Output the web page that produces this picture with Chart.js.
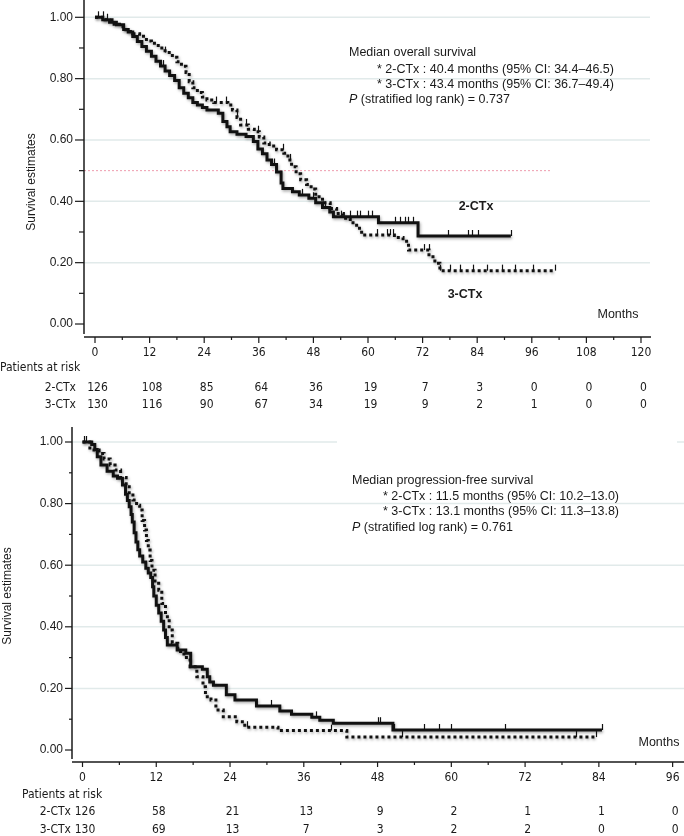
<!DOCTYPE html>
<html>
<head>
<meta charset="utf-8">
<script src="https://cdn.jsdelivr.net/npm/chart.js@4.4.1/dist/chart.umd.min.js"></script>
<style>
  html, body { margin: 0; padding: 0; background: #fff; }
  #wrap { position: relative; width: 684px; height: 836px; }
  canvas { position: absolute; left: 0; }
</style>
</head>
<body>
<div id="wrap">
  <canvas id="osChart" width="684" height="420" style="top:0"></canvas>
  <canvas id="pfsChart" width="684" height="416" style="top:420px"></canvas>
</div>
<script>
// ---- overall survival (top) ----
const osTime2 = [0, 1.7, 3.2, 4.7, 6.3, 7.3, 8.3, 9.3, 10.3, 11.3, 12.4, 13.4, 14.4, 15.4, 16.4, 17.5, 18.5, 19.5, 20.5, 21.5, 22.5, 23.6, 24.6, 27.1, 28.1, 29.0, 29.7, 31.2, 33.2, 34.8, 35.8, 36.8, 37.8, 38.8, 39.9, 40.9, 41.3, 43.4, 44.9, 47.0, 48.5, 50.0, 51.6, 52.4, 62.3, 71.0];
const osSurv2 = [1, 0.992, 0.984, 0.976, 0.960, 0.952, 0.937, 0.921, 0.905, 0.889, 0.873, 0.857, 0.841, 0.825, 0.810, 0.794, 0.770, 0.752, 0.738, 0.722, 0.714, 0.706, 0.698, 0.687, 0.660, 0.643, 0.627, 0.619, 0.611, 0.595, 0.571, 0.555, 0.535, 0.520, 0.496, 0.460, 0.442, 0.431, 0.421, 0.410, 0.395, 0.380, 0.365, 0.350, 0.330, 0.287];
const osCens2 = [0.7, 2.7, 14.9, 39.3, 45.5, 48, 50.5, 54.1, 56.1, 57.5, 58.2, 60.1, 60.8, 62.3, 65.9, 67.0, 68.1, 68.9, 70.0, 77.6, 82.0, 82.8, 84.2, 91.4];

const osTime3 = [0, 2.2, 4.2, 5.8, 6.8, 8.3, 9.8, 11.3, 12.4, 13.9, 15.4, 17.0, 18.0, 19.0, 20.0, 20.7, 21.5, 22.5, 23.6, 24.6, 26.1, 29.2, 30.2, 31.2, 32.0, 33.7, 35.0, 36.1, 37.1, 38.3, 39.9, 41.5, 42.4, 43.2, 44.2, 45.2, 46.5, 47.5, 48.5, 50.0, 51.7, 53.1, 54.6, 56.1, 57.5, 58.6, 65.8, 67.7, 68.9, 73.4, 74.7, 75.8];
const osSurv3 = [1, 0.992, 0.977, 0.969, 0.954, 0.946, 0.938, 0.923, 0.915, 0.900, 0.885, 0.870, 0.855, 0.840, 0.820, 0.790, 0.770, 0.755, 0.740, 0.730, 0.722, 0.714, 0.698, 0.673, 0.649, 0.635, 0.627, 0.610, 0.590, 0.580, 0.568, 0.557, 0.535, 0.513, 0.490, 0.470, 0.455, 0.440, 0.415, 0.395, 0.377, 0.360, 0.345, 0.330, 0.312, 0.290, 0.282, 0.270, 0.241, 0.219, 0.198, 0.174];
const osCens3 = [1.7, 15.4, 26.6, 28.7, 31.2, 33.2, 35.8, 41.4, 42.9, 61.9, 64.1, 64.8, 65.6, 72.2, 73.3, 75.8, 78.0, 80.2, 83.1, 86.1, 89.4, 92.3, 96.3, 101.1];

const osTicks = [0, 12, 24, 36, 48, 60, 72, 84, 96, 108, 120];
const osRisk2 = [126, 108, 85, 64, 36, 19, 7, 3, 0, 0, 0];
const osRisk3 = [130, 116, 90, 67, 34, 19, 9, 2, 1, 0, 0];

// ---- progression-free survival (bottom) ----
const pfsTime2 = [0, 1.5, 2, 2.4, 3, 4, 5, 5.7, 6.5, 7.0, 7.3, 7.6, 7.9, 8.1, 8.4, 8.7, 9.0, 9.3, 9.8, 10.3, 10.7, 11.1, 11.4, 11.6, 12.0, 12.4, 12.8, 13.2, 13.5, 13.8, 15.4, 16.8, 17.6, 19.5, 20.3, 20.7, 21.3, 23.4, 24.8, 28.3, 32.1, 34, 37.3, 38.6, 40.8, 50.5];
const pfsSurv2 = [1, 0.992, 0.976, 0.952, 0.925, 0.905, 0.890, 0.882, 0.860, 0.830, 0.810, 0.790, 0.765, 0.740, 0.705, 0.675, 0.650, 0.630, 0.610, 0.590, 0.575, 0.560, 0.530, 0.500, 0.470, 0.445, 0.418, 0.390, 0.365, 0.341, 0.325, 0.314, 0.270, 0.262, 0.238, 0.221, 0.210, 0.179, 0.162, 0.143, 0.127, 0.116, 0.106, 0.097, 0.087, 0.065];
const pfsCens2 = [0.5, 30.6, 38, 48.1, 48.4, 50.6, 55.5, 58, 60, 68.7, 84.5];

const pfsTime3 = [0, 1.2, 2.7, 3.5, 4.5, 5.3, 6.2, 7.1, 7.6, 8.2, 8.8, 9.3, 9.7, 10.1, 10.4, 10.7, 11.0, 11.3, 11.8, 12.4, 12.9, 13.5, 14.1, 14.6, 15.5, 16.5, 17.5, 18.6, 19.6, 20.0, 20.9, 21.7, 22.9, 25.1, 26.4, 31.8, 43];
const pfsSurv3 = [1, 0.974, 0.963, 0.945, 0.925, 0.909, 0.885, 0.855, 0.835, 0.812, 0.795, 0.779, 0.745, 0.714, 0.680, 0.649, 0.615, 0.584, 0.541, 0.519, 0.476, 0.433, 0.390, 0.347, 0.320, 0.300, 0.270, 0.238, 0.205, 0.173, 0.162, 0.130, 0.108, 0.092, 0.074, 0.063, 0.042];
const pfsCens3 = [0.3, 26.7, 40.4, 52, 80.3, 83.6];

const pfsTicks = [0, 12, 24, 36, 48, 60, 72, 84, 96];
const pfsRisk2 = [126, 58, 21, 13, 9, 2, 1, 1, 0];
const pfsRisk3 = [130, 69, 13, 7, 3, 2, 2, 0, 0];

const yTicks = [0, 0.2, 0.4, 0.6, 0.8, 1.0];
const yMinorTicks = [0.1, 0.3, 0.5, 0.7, 0.9];
const armNames = ['2-CTx', '3-CTx'];

const NARROW = "'Liberation Sans Narrow', 'Arial Narrow', 'DejaVu Sans Condensed', sans-serif";
const SANS = "'Liberation Sans', Arial, Helvetica, sans-serif";
const INK = '#1a1a1a';

function survAt(times, surv, t) {
  let s = surv[0];
  for (let i = 0; i < times.length; i++) {
    if (times[i] <= t) s = surv[i];
  }
  return s;
}

function curvePoints(times, surv, cens) {
  const pts = times.map((t, i) => ({ x: t, y: surv[i] }));
  pts.push({ x: Math.max(...cens), y: surv[surv.length - 1] });
  return pts;
}

function put(ctx, str, x, y, font, align) {
  ctx.font = font;
  ctx.textAlign = align || 'left';
  ctx.textBaseline = 'middle';
  ctx.fillText(str, x, y);
}

function makeDecor(cfg) {
  return {
    id: 'kmDecor',
    beforeDatasetsDraw(chart) {
      const { ctx, scales: { y } } = chart;
      ctx.save();
      ctx.strokeStyle = '#e1eaea';
      ctx.lineWidth = 1.5;
      cfg.grid.forEach(g => {
        const py = y.getPixelForValue(g[0]);
        ctx.beginPath(); ctx.moveTo(g[1], py); ctx.lineTo(g[2], py); ctx.stroke();
      });
      if (cfg.median) {
        const py = y.getPixelForValue(cfg.median[0]);
        ctx.strokeStyle = '#ee9cad';
        ctx.lineWidth = 1;
        ctx.setLineDash([2, 2]);
        ctx.beginPath(); ctx.moveTo(cfg.median[1], py); ctx.lineTo(cfg.median[2], py); ctx.stroke();
      }
      ctx.restore();
    },
    beforeDatasetDraw(chart) {
      const c = chart.ctx;
      c.save();
      c.shadowColor = 'rgba(0,0,0,0.35)';
      c.shadowBlur = 3;
      c.shadowOffsetX = 1;
      c.shadowOffsetY = 1.5;
    },
    afterDatasetDraw(chart) {
      chart.ctx.restore();
    },
    afterDatasetsDraw(chart) {
      const { ctx, scales: { x, y } } = chart;
      ctx.save();
      ctx.strokeStyle = '#111';
      ctx.lineWidth = 1.2;
      chart.data.datasets.forEach(ds => {
        ds.censor.forEach(t => {
          const px = Math.round(x.getPixelForValue(t)) + 0.5;
          const py = y.getPixelForValue(survAt(ds.times, ds.surv, t));
          ctx.beginPath(); ctx.moveTo(px, py); ctx.lineTo(px, py - 6); ctx.stroke();
        });
      });
      ctx.restore();
    },
    afterDraw(chart) {
      const { ctx, chartArea: a, scales: { x, y } } = chart;
      ctx.save();
      ctx.strokeStyle = INK;
      ctx.fillStyle = INK;
      ctx.lineWidth = 1.5;
      // axes
      ctx.beginPath(); ctx.moveTo(a.left, a.top); ctx.lineTo(a.left, a.bottom - 2); ctx.stroke();
      const ax = a.bottom + 1;
      ctx.beginPath(); ctx.moveTo(a.left, ax); ctx.lineTo(a.right, ax); ctx.stroke();
      ctx.lineWidth = 1.2;
      yTicks.forEach(v => {
        const py = y.getPixelForValue(v);
        ctx.beginPath(); ctx.moveTo(a.left - cfg.yMajorLen, py); ctx.lineTo(a.left, py); ctx.stroke();
      });
      yMinorTicks.forEach(v => {
        const py = y.getPixelForValue(v);
        ctx.beginPath(); ctx.moveTo(a.left - cfg.yMinorLen, py); ctx.lineTo(a.left, py); ctx.stroke();
      });
      cfg.xTicks.forEach(t => {
        let px = x.getPixelForValue(t);
        ctx.beginPath(); ctx.moveTo(px, ax); ctx.lineTo(px, ax + cfg.xMajorLen); ctx.stroke();
        px = x.getPixelForValue(t + 6);
        if (px < a.right) {
          ctx.beginPath(); ctx.moveTo(px, ax); ctx.lineTo(px, ax + cfg.xMinorLen); ctx.stroke();
        }
      });

      // y title
      ctx.save();
      ctx.translate(cfg.title[0], cfg.title[1]);
      ctx.rotate(-Math.PI / 2);
      put(ctx, 'Survival estimates', 0, 0, '12px ' + SANS, 'center');
      ctx.restore();

      put(ctx, 'Months', cfg.months[0], cfg.months[1], '12.5px ' + SANS, 'center');

      // annotation
      const n = cfg.note;
      const nf = '12.5px ' + SANS;
      put(ctx, n.lines[0], n.x, n.ys[0], nf);
      put(ctx, n.lines[1], n.indent, n.ys[1], nf);
      put(ctx, n.lines[2], n.indent, n.ys[2], nf);
      put(ctx, 'P', n.x, n.ys[3], 'italic ' + nf);
      const pw = ctx.measureText('P').width;
      put(ctx, n.lines[3], n.x + pw, n.ys[3], nf);

      (cfg.labels || []).forEach(l => put(ctx, l[0], l[1], l[2], 'bold 12.5px ' + SANS, 'center'));

      // patients at risk table
      const r = cfg.risk;
      put(ctx, 'Patients at risk', r.x, r.y, '12px ' + NARROW);
      [r.arm2, r.arm3].forEach((row, i) => {
        put(ctx, armNames[i], r.labelX, r.rowsY[i], '12px ' + NARROW, 'right');
        row.forEach((v, j) => {
          put(ctx, String(v), x.getPixelForValue(cfg.xTicks[j]) + 2.5, r.rowsY[i], '12px ' + NARROW, 'center');
        });
      });
      ctx.restore();
    }
  };
}

function kmChart(id, cfg) {
  const mk = (times, surv, cens, dash) => ({
    data: curvePoints(times, surv, cens),
    times: times, surv: surv, censor: cens,
    borderColor: '#111',
    borderWidth: 3,
    borderDash: dash,
    borderCapStyle: 'butt',
    borderJoinStyle: 'miter',
    stepped: 'before',
    pointRadius: 0,
    fill: false
  });
  return new Chart(document.getElementById(id), {
    type: 'line',
    data: { datasets: [mk(cfg.t2, cfg.s2, cfg.c2, []), mk(cfg.t3, cfg.s3, cfg.c3, [3, 3])] },
    options: {
      responsive: false,
      animation: false,
      events: [],
      layout: { padding: { top: cfg.padTop, right: cfg.padRight, left: 0, bottom: 0 } },
      plugins: { legend: { display: false }, tooltip: { enabled: false } },
      scales: {
        x: {
          type: 'linear',
          min: cfg.xMin, max: cfg.xMax,
          afterBuildTicks: s => { s.ticks = cfg.xTicks.map(v => ({ value: v })); },
          afterFit: s => { s.height = cfg.xAxisH; s.paddingLeft = 0; s.paddingRight = 0; },
          grid: { display: false, drawTicks: false },
          border: { display: false },
          ticks: {
            autoSkip: false, maxRotation: 0, padding: cfg.xPad,
            color: INK, font: { family: NARROW, size: 12 },
            callback: v => String(v)
          }
        },
        y: {
          type: 'linear',
          min: cfg.yMin, max: cfg.yMax,
          afterBuildTicks: s => { s.ticks = yTicks.map(v => ({ value: v })); },
          afterFit: s => { s.width = cfg.yAxisW; s.paddingTop = 0; s.paddingBottom = 0; },
          grid: { display: false, drawTicks: false },
          border: { display: false },
          ticks: {
            autoSkip: false, padding: cfg.yPad,
            color: INK, font: { family: SANS, size: 12 },
            callback: v => Number(v).toFixed(2)
          }
        }
      }
    },
    plugins: [makeDecor(cfg)]
  });
}

kmChart('osChart', {
  t2: osTime2, s2: osSurv2, c2: osCens2,
  t3: osTime3, s3: osSurv3, c3: osCens3,
  xTicks: osTicks,
  padTop: 0, padRight: 33, yAxisW: 84, xAxisH: 84,
  xMin: -2.418, xMax: 122.2, yMin: -0.0391, yMax: 1.0564,
  xPad: 10, yPad: 11,
  yMajorLen: 9, yMinorLen: 5, xMajorLen: 6, xMinorLen: 3,
  grid: [[0.2, 84, 650], [0.4, 84, 650], [0.6, 84, 650], [0.8, 84, 650], [1.0, 84, 650]],
  median: [0.5, 84, 550],
  title: [32, 182],
  months: [618, 315],
  note: {
    x: 349, indent: 377, ys: [53, 70, 85, 100],
    lines: ['Median overall survival',
            '* 2-CTx : 40.4 months (95% CI: 34.4\u201346.5)',
            '* 3-CTx : 43.4 months (95% CI: 36.7\u201349.4)',
            ' (stratified log rank) = 0.737']
  },
  labels: [['2-CTx', 476, 207], ['3-CTx', 465, 295]],
  risk: { x: 0, y: 368, labelX: 76, rowsY: [388, 405], arm2: osRisk2, arm3: osRisk3 }
});

kmChart('pfsChart', {
  t2: pfsTime2, s2: pfsSurv2, c2: pfsCens2,
  t3: pfsTime3, s3: pfsSurv3, c3: pfsCens3,
  xTicks: pfsTicks,
  padTop: 7, padRight: 0, yAxisW: 72, xAxisH: 75,
  xMin: -1.708, xMax: 97.85, yMin: -0.0357, yMax: 1.0487,
  xPad: 9.5, yPad: 9,
  yMajorLen: 7, yMinorLen: 3, xMajorLen: 5, xMinorLen: 3,
  grid: [[0.2, 72, 684], [0.4, 72, 684], [0.6, 72, 684], [0.8, 72, 684], [1.0, 72, 337], [1.0, 677, 684]],
  median: null,
  title: [8, 176],
  months: [659, 323],
  note: {
    x: 352, indent: 383, ys: [61, 77, 92, 108],
    lines: ['Median progression-free survival',
            '* 2-CTx : 11.5 months (95% CI: 10.2\u201313.0)',
            '* 3-CTx : 13.1 months (95% CI: 11.3\u201313.8)',
            ' (stratified log rank) = 0.761']
  },
  labels: [],
  risk: { x: 22, y: 375, labelX: 71, rowsY: [392, 410], arm2: pfsRisk2, arm3: pfsRisk3 }
});
</script>
</body>
</html>
